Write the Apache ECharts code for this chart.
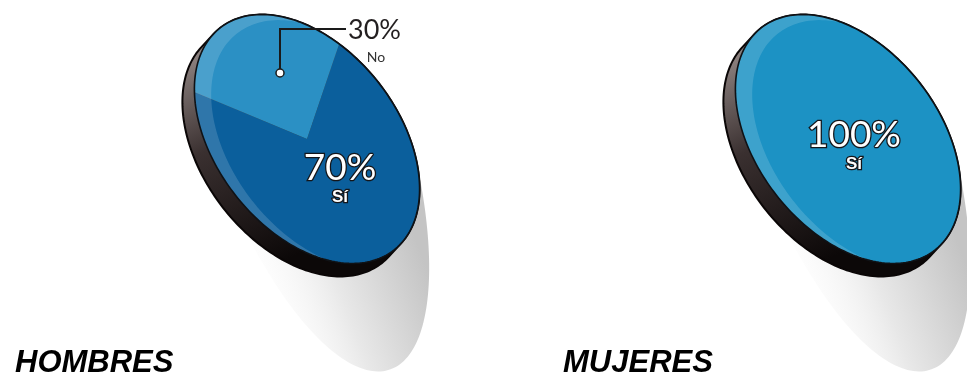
<!DOCTYPE html>
<html><head><meta charset="utf-8">
<script src="https://cdn.jsdelivr.net/npm/echarts@6/dist/echarts.min.js"></script>
<style>html,body{margin:0;padding:0;background:#fff}#c{width:967px;height:377px}</style>
</head><body><div id="c"></div>
<script>
// ---------- data ----------
const groups = ['HOMBRES', 'MUJERES'];
const answers = ['Sí', 'No'];
const hombres = [70, 30];
const mujeres = [100, 0];
const values = [hombres, mujeres];

// ---------- layout / style ----------
const centers = [[307, 139], [848, 139]];
const A = 141, B = 91, ROT = -52 * Math.PI / 180;
const START = 247 * Math.PI / 180;
const RIM = [-12, 13];
const pieColors = [['#0b5f9c', '#2b90c4'], ['#1c92c4']];
const insideLabelPos = [[340, 168], [854, 135]];
const outsideLabel = { anchor: [280, 73], elbowY: 29, textX: 346 };
const titleLeft = [15, 563];

const cosR = Math.cos(ROT), sinR = Math.sin(ROT);
function toScreen(cx, cy, lx, ly) { return [cx + cosR * lx + sinR * ly, cy - sinR * lx + cosR * ly]; }
function ellipsePts(cx, cy, n) {
  const pts = [];
  for (let i = 0; i < n; i++) { const t = i / n * 2 * Math.PI; pts.push(toScreen(cx, cy, A * Math.cos(t), B * Math.sin(t))); }
  return pts;
}
function sweep(cx, cy, off, n) {
  const pts = [];
  for (let i = 0; i < n; i++) {
    const t = i / n * 2 * Math.PI;
    const nl = [B * Math.cos(t), A * Math.sin(t)];
    const ns = [cosR * nl[0] + sinR * nl[1], -sinR * nl[0] + cosR * nl[1]];
    const p = toScreen(cx, cy, A * Math.cos(t), B * Math.sin(t));
    if (ns[0] * off[0] + ns[1] * off[1] > 0) pts.push([p[0] + off[0], p[1] + off[1]]); else pts.push(p);
  }
  return pts;
}
// cast shadow: lower part of the disc stretched downwards
function shadowPts(cx, cy, n) {
  return ellipsePts(cx, cy, n).map(([x, y]) => {
    const f = Math.max(0, y - (cy + 28)) * 1.12;
    return [x + f * 0.24, y + f];
  });
}
function crescent(dirDeg, d) {
  const ac = dirDeg * Math.PI / 180, cxn = d * Math.cos(ac), cyn = d * Math.sin(ac);
  const h = Math.acos(d / 2), pts = [], N = 90;
  for (let i = 0; i <= N; i++) { const t = ac + h + (2 * Math.PI - 2 * h) * i / N; pts.push([A * Math.cos(t), A * Math.sin(t)]); }
  for (let i = 0; i <= N; i++) { const t = ac + Math.PI + h - 2 * h * i / N; pts.push([A * (cxn + Math.cos(t)), A * (cyn + Math.sin(t))]); }
  return pts;
}

function renderPie(params, api) {
  const k = api.value(0);
  const [cx, cy] = centers[k];
  const vals = values[k];
  const total = vals.reduce((a, b) => a + b, 0);
  const G = echarts.graphic;
  const children = [];
  // shadow
  children.push({
    type: 'polygon', shape: { points: shadowPts(cx, cy, 240) },
    style: { fill: new G.LinearGradient(cx - 40, cy + 215, cx + 128, cy + 150, [
      { offset: 0, color: 'rgba(255,255,255,0)' },
      { offset: 0.5, color: 'rgba(232,232,232,1)' },
      { offset: 1, color: 'rgba(196,196,196,1)' }], true) }
  });
  // rim
  children.push({
    type: 'polygon', shape: { points: sweep(cx, cy, RIM, 240) },
    style: { fill: new G.LinearGradient(cx - 135, cy - 70, cx - 40, cy + 130, [
      { offset: 0, color: '#8a7f7d' },
      { offset: 0.4, color: '#3a3030' },
      { offset: 1, color: '#0c0808' }], true), stroke: '#0a0606', lineWidth: 2 }
  });
  // slices
  const sectors = [];
  let ang = START;
  let maxI = 0;
  vals.forEach((v, i) => {
    if (v > vals[maxI]) maxI = i;
    if (!v) return;
    const span = v / total * 2 * Math.PI;
    sectors.push({ type: 'sector', shape: { cx: 0, cy: 0, r0: 0, r: A, startAngle: ang, endAngle: ang + span, clockwise: true },
      style: { fill: pieColors[k][i] } });
    ang += span;
  });
  sectors.push({ type: 'polygon', shape: { points: crescent(314, 0.15) }, style: { fill: 'rgba(255,255,255,0.15)' } });
  children.push({ type: 'group', x: cx, y: cy, rotation: ROT, scaleY: B / A, children: sectors });
  // outline
  children.push({ type: 'polygon', shape: { points: ellipsePts(cx, cy, 240) }, style: { fill: 'none', stroke: '#0f1216', lineWidth: 1.6 } });
  // labels
  vals.forEach((v, i) => {
    if (!v) return;
    const pct = Math.round(v / total * 100) + '%';
    if (i === maxI) {
      const [lx, ly] = insideLabelPos[k];
      children.push({ type: 'text', x: lx, y: ly, style: { text: pct, fill: '#fff', stroke: '#14161a', lineWidth: 2.6, strokeFirst: true,
        fontFamily: 'Lato', fontSize: 37, align: 'center', verticalAlign: 'middle' } });
      children.push({ type: 'text', x: lx, y: ly + 29, style: { text: answers[i], fill: '#fff', stroke: '#14161a', lineWidth: 2.6, strokeFirst: true,
        fontFamily: 'Liberation Sans', fontWeight: 'bold', fontSize: 17, align: 'center', verticalAlign: 'middle' } });
    } else {
      const [ax, ay] = outsideLabel.anchor;
      children.push({ type: 'polyline', shape: { points: [[ax, ay], [ax, outsideLabel.elbowY], [outsideLabel.textX, outsideLabel.elbowY]] },
        style: { stroke: '#1a1a1a', lineWidth: 2, fill: 'none' } });
      children.push({ type: 'circle', shape: { cx: ax, cy: ay, r: 4 }, style: { fill: '#fff', stroke: '#1a1a1a', lineWidth: 1.5 } });
      children.push({ type: 'text', x: outsideLabel.textX + 2, y: outsideLabel.elbowY + 1, style: { text: pct, fill: '#231f20',
        fontFamily: 'Lato', fontSize: 27, align: 'left', verticalAlign: 'middle' } });
      children.push({ type: 'text', x: outsideLabel.textX + 30, y: outsideLabel.elbowY + 28, style: { text: answers[i], fill: '#333',
        fontFamily: 'Lato', fontSize: 14, align: 'center', verticalAlign: 'middle' } });
    }
  });
  return { type: 'group', children };
}

const chart = echarts.init(document.getElementById('c'));
chart.setOption({
  backgroundColor: '#ffffff',
  animation: false,
  title: groups.map((g, i) => ({
    text: g, left: titleLeft[i], top: 348, padding: 0,
    textStyle: { fontFamily: 'Liberation Sans', fontWeight: 'bold', fontStyle: 'italic', fontSize: 31, color: '#000' }
  })),
  series: [{ type: 'custom', coordinateSystem: 'none', data: groups.map((g, i) => [i]), renderItem: renderPie }]
});
</script></body></html>
